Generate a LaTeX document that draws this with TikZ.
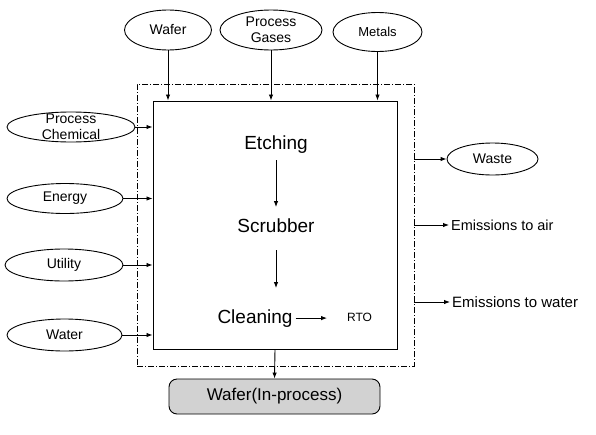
\documentclass[tikz,border=0pt]{standalone}
\usepackage{fontspec}
\setmainfont{Liberation Sans}
\usetikzlibrary{shapes.geometric,arrows.meta}
\begin{document}
\begin{tikzpicture}[x=1pt,y=-1pt,
 every node/.style={font=\fontsize{14}{16}\selectfont},
 src/.style={ellipse,draw,line width=0.9pt,inner sep=0pt,align=center},
 arr/.style={line width=0.9pt,-{Latex[length=6pt,width=4.5pt]}},
 big/.style={font=\fontsize{19}{22}\selectfont,inner sep=3pt},
 outtext/.style={anchor=west,inner sep=2pt,font=\fontsize{14.5}{16}\selectfont},
]
\useasboundingbox[fill=white] (0,0) rectangle (596,434);
% boundaries
\node[draw,line width=0.9pt,dash pattern=on 6pt off 2pt on 1pt off 2pt,minimum width=277pt,minimum height=282pt,inner sep=0pt] (outer) at (275.5,225) {};
\node[draw,line width=1pt,minimum width=244pt,minimum height=248pt,inner sep=0pt] (inner) at (275,225) {};
% inputs on top
\node[src,minimum width=87pt,minimum height=40pt] (wafer) at (168,30) {Wafer};
\node[src,minimum width=102pt,minimum height=40pt,label={[align=center,font=\fontsize{14}{16}\selectfont]center:Process\\Gases}] (gases) at (271,30) {};
\node[src,minimum width=89pt,minimum height=39pt,font=\fontsize{13}{15}\selectfont] (metals) at (377.5,32) {Metals};
% inputs on left
\node[src,minimum width=128pt,minimum height=30pt,label={[align=center,font=\fontsize{14}{16}\selectfont]center:Process\\Chemical}] (chem) at (71,127) {};
\node[src,minimum width=116pt,minimum height=30pt] (energy) at (65,198.5) {Energy};
\node[src,minimum width=118pt,minimum height=32pt] (utility) at (64,265) {Utility};
\node[src,minimum width=115pt,minimum height=32pt] (water) at (64.5,335) {Water};
% outputs
\node[src,minimum width=91pt,minimum height=32pt] (waste) at (492.5,159) {Waste};
\node[outtext] (air) at (449,225) {Emissions to air};
\node[outtext,font=\fontsize{15}{17}\selectfont] (wtr) at (450,302) {Emissions to water};
% process steps
\node[big,anchor=base] (etch) at (276,149) {Etching};
\node[big,anchor=base] (scrub) at (276,232) {Scrubber};
\node[big,anchor=base] (clean) at (255,323) {Cleaning};
\node[font=\fontsize{12}{14}\selectfont] (rto) at (359.5,317) {RTO};
\coordinate (rtoin) at (327,317);
% product
\node[draw,line width=0.9pt,rounded corners=8pt,fill=gray!35,minimum width=211pt,minimum height=35pt,font=\fontsize{17}{20}\selectfont] (wip) at (274.5,396.5) {Wafer(In-process)};
% connectors
\draw[arr] (wafer.south) -- (wafer.south |- inner.north);
\draw[arr] (gases.south) -- (gases.south |- inner.north);
\draw[arr] (metals.south) -- (metals.south |- inner.north);
\draw[arr] (chem.east) -- (chem.east -| inner.west);
\draw[arr] (energy.east) -- (energy.east -| inner.west);
\draw[arr] (utility.east) -- (utility.east -| inner.west);
\draw[arr] (water.east) -- (water.east -| inner.west);
\draw[arr] (waste.west -| outer.east) -- (waste.west);
\draw[arr] (air.west -| outer.east) -- (air.west);
\draw[arr] (wtr.west -| outer.east) -- (wtr.west);
\draw[arr,shorten <=4pt,shorten >=8pt] (etch.south) -- (scrub.north);
\draw[arr,shorten <=15pt,shorten >=18pt] (scrub.south) -- (scrub.south |- clean.north);
\draw[arr] (clean.east) -- (rtoin |- clean.east);
\draw[arr] (inner.south) -- (wip.north);
\end{tikzpicture}
\end{document}
